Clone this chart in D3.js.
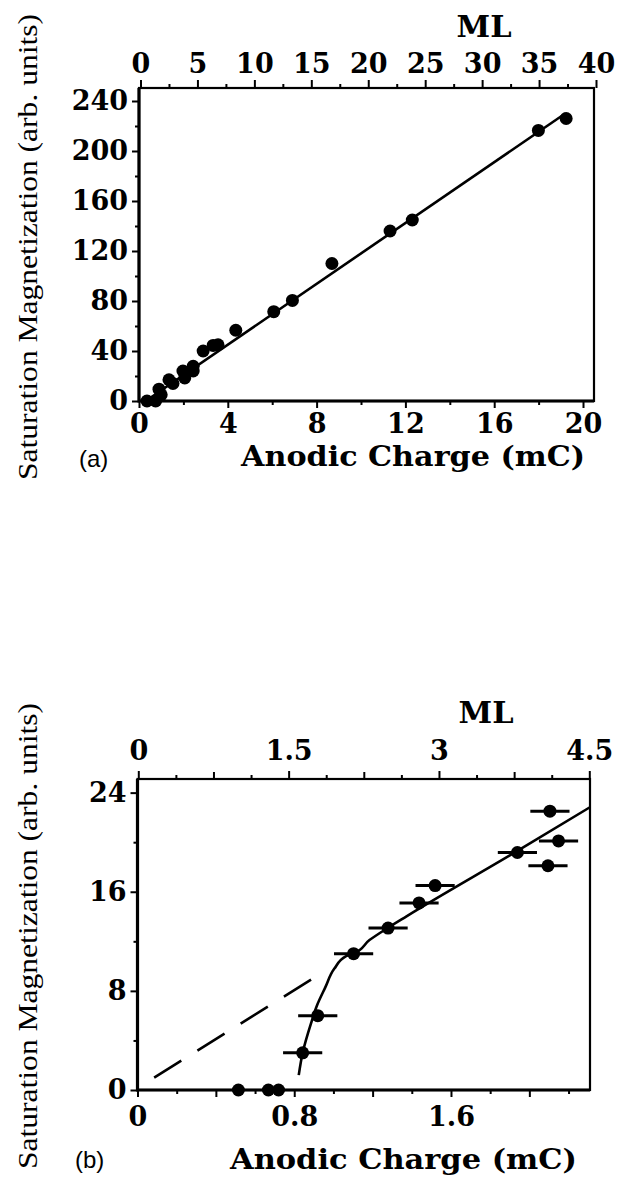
<!DOCTYPE html>
<html>
<head>
<meta charset="utf-8">
<script src="https://cdn.jsdelivr.net/npm/d3@7"></script>
<style>
  body { margin: 0; background: #fff; }
  .tick text { font-family: "DejaVu Serif"; font-weight: bold; font-size: 27px; fill: #000; }
  .tick line { stroke: #000; stroke-width: 2; }
</style>
</head>
<body>
<svg id="fig" width="620" height="1179"></svg>
<script>
// ---- panel (a) data
const chargeA = [0.36, 0.75, 0.9, 1.0, 1.35, 1.53, 1.98, 2.06, 2.44, 2.44, 2.89, 3.34, 3.56, 4.36, 6.07, 6.91, 8.69, 11.31, 12.31, 17.99, 19.24];
const magA    = [0, 0, 9.5, 5, 17, 14, 24, 18.5, 27.8, 24, 40, 44.5, 45, 56.6, 71.5, 80.5, 110, 136, 144.8, 216.5, 226];
const fitChargeA = [0.3, 19.2];
const fitMagA    = [0, 230];

const xTicksA      = [0, 4, 8, 12, 16, 20];
const xMinorA      = [2, 6, 10, 14, 18];
const mlTicksA     = [0, 5, 10, 15, 20, 25, 30, 35, 40];
const mlMinorA     = [2.5, 7.5, 12.5, 17.5, 22.5, 27.5, 32.5, 37.5];
const yTicksA      = [0, 40, 80, 120, 160, 200, 240];
const yMinorA      = [20, 60, 100, 140, 180, 220];

// ---- panel (b) data
const chargeB    = [0.515, 0.668, 0.72, 0.843, 0.92, 1.103, 1.279, 1.437, 1.519, 1.939, 2.105, 2.149, 2.095];
const magB       = [0, 0, 0, 3, 6, 11, 13.07, 15.1, 16.5, 19.17, 22.5, 20.1, 18.1];
const chargeErrB = [0, 0, 0, 0.1, 0.1, 0.1, 0.1, 0.1, 0.1, 0.1, 0.1, 0.1, 0.1];
const curveChargeB = [0.823, 0.843, 0.886, 0.918, 0.959, 1.005, 1.065, 1.102, 1.184, 1.276, 1.371, 1.939, 2.307];
const curveMagB    = [1.2, 3.0, 5.4, 6.9, 8.3, 9.8, 10.8, 11.0, 12.1, 13.07, 14.0, 19.3, 22.8];
const dashChargeB  = [0.085, 0.905];
const dashMagB     = [1.0, 9.1];

const xTicksB  = [0, 0.8, 1.6];
const xLongB   = [0.4, 1.2, 2.0];
const xMinorB  = [0.2, 0.6, 1.0, 1.4, 1.8, 2.2];
const mlTicksB = [0, 1.5, 3, 4.5];
const mlLongB  = [0.75, 2.25, 3.75];
const mlMinorB = [0.375, 1.125, 1.875, 2.625, 3.375, 4.125];
const yTicksB  = [0, 8, 16, 24];
const yMinorB  = [4, 12, 20];

const svg = d3.select("#fig");

function ticks(axis, vals, size, pad, labels) {
  return axis.tickValues(vals).tickSize(size).tickPadding(pad)
    .tickFormat(labels ? d => String(d) : "");
}

function addAxis(g, axis, tr) {
  const a = g.append("g").attr("transform", tr).call(axis);
  a.select(".domain").remove();
  return a;
}

function drawPanel(p) {
  const g = svg.append("g");
  const [x0, x1] = p.x.range(), [y0, y1] = p.y.range();

  // bottom axis
  addAxis(g, ticks(d3.axisBottom(p.x), p.xMinor, 4, 0, false), `translate(0,${y0})`);
  if (p.xLong) addAxis(g, ticks(d3.axisBottom(p.x), p.xLong, 7, 0, false), `translate(0,${y0})`);
  addAxis(g, ticks(d3.axisBottom(p.x), p.xTicks, 7, p.xPad, true), `translate(0,${y0})`);
  // top axis (ML)
  addAxis(g, ticks(d3.axisTop(p.ml), p.mlMinor, 4, 0, false), `translate(0,${y1})`);
  if (p.mlLong) addAxis(g, ticks(d3.axisTop(p.ml), p.mlLong, 7, 0, false), `translate(0,${y1})`);
  addAxis(g, ticks(d3.axisTop(p.ml), p.mlTicks, 8, p.mlPad, true), `translate(0,${y1})`);
  // left axis
  addAxis(g, ticks(d3.axisLeft(p.y), p.yMinor, 4, 0, false), `translate(${x0},0)`);
  addAxis(g, ticks(d3.axisLeft(p.y), p.yTicks, 7, 4, true), `translate(${x0},0)`);

  // frame
  g.append("rect").attr("x", x0).attr("y", y1).attr("width", p.right - x0).attr("height", y0 - y1)
    .attr("fill", "none").attr("stroke", "#000").attr("stroke-width", 2.2);
  g.append("path").attr("d", `M${x0},${y1}V${y0}H${p.right}`)
    .attr("fill", "none").attr("stroke", "#000").attr("stroke-width", 3.2);

  // titles
  g.append("text").text("ML").attr("x", p.mlTitle[0]).attr("y", p.mlTitle[1])
    .attr("text-anchor", "middle").style("font-family", "DejaVu Serif").style("font-weight", "bold")
    .style("font-size", "29px").attr("textLength", 55).attr("lengthAdjust", "spacingAndGlyphs");
  g.append("text").text("Anodic Charge (mC)").attr("x", p.xTitle[0]).attr("y", p.xTitle[1])
    .style("font-family", "DejaVu Serif").style("font-weight", "bold").style("font-size", "28px")
    .attr("textLength", p.xTitle[2]).attr("lengthAdjust", "spacingAndGlyphs");
  g.append("text").text("Saturation Magnetization (arb. units)")
    .attr("transform", `translate(${p.yTitle[0]},${p.yTitle[1]}) rotate(-90)`)
    .attr("text-anchor", "middle").style("font-family", "Liberation Serif").style("font-size", "28px")
    .attr("textLength", 466).attr("lengthAdjust", "spacingAndGlyphs");
  g.append("text").text(p.tag).attr("x", p.tagPos[0]).attr("y", p.tagPos[1])
    .style("font-family", "Liberation Sans").style("font-size", "24px");
  return g;
}

// ---------- panel (a)
const pa = {
  x: d3.scaleLinear().domain([0, 20.45]).range([139, 593]),
  ml: d3.scaleLinear().domain([0, 40]).range([140.5, 596]),
  y: d3.scaleLinear().domain([0, 250.4]).range([401, 88]),
  right: 594,
  xTicks: xTicksA, xMinor: xMinorA, xPad: 6,
  mlTicks: mlTicksA, mlMinor: mlMinorA, mlPad: 7,
  yTicks: yTicksA, yMinor: yMinorA,
  mlTitle: [484, 37], xTitle: [241, 466, 344], yTitle: [37, 247],
  tag: "(a)", tagPos: [79, 467]
};
const ga = drawPanel(pa);

ga.append("path")
  .datum(d3.zip(fitChargeA, fitMagA))
  .attr("d", d3.line().x(d => pa.x(d[0])).y(d => pa.y(d[1])))
  .attr("fill", "none").attr("stroke", "#000").attr("stroke-width", 2.6);

ga.selectAll(".dotA")
  .data(d3.zip(chargeA, magA))
  .enter().append("circle")
  .attr("cx", d => pa.x(d[0]))
  .attr("cy", d => pa.y(d[1]))
  .attr("r", 6.5)
  .attr("fill", "#000");

// ---------- panel (b)
const pb = {
  x: d3.scaleLinear().domain([0, 2.307]).range([137.5, 589.5]),
  ml: d3.scaleLinear().domain([0, 4.5]).range([138.3, 589.3]),
  y: d3.scaleLinear().domain([0, 25.1]).range([1090, 779]),
  right: 590,
  xTicks: xTicksB, xLong: xLongB, xMinor: xMinorB, xPad: 10,
  mlTicks: mlTicksB, mlLong: mlLongB, mlMinor: mlMinorB, mlPad: 11,
  yTicks: yTicksB, yMinor: yMinorB,
  mlTitle: [486, 723], xTitle: [230, 1169, 347], yTitle: [37, 936],
  tag: "(b)", tagPos: [75, 1168]
};
const gb = drawPanel(pb);

gb.append("path")
  .datum(d3.zip(dashChargeB, dashMagB))
  .attr("d", d3.line().x(d => pb.x(d[0])).y(d => pb.y(d[1])))
  .attr("fill", "none").attr("stroke", "#000").attr("stroke-width", 2.6)
  .attr("stroke-dasharray", "32,19");

gb.append("path")
  .datum(d3.zip(curveChargeB, curveMagB))
  .attr("d", d3.line().curve(d3.curveMonotoneY).x(d => pb.x(d[0])).y(d => pb.y(d[1])))
  .attr("fill", "none").attr("stroke", "#000").attr("stroke-width", 2.6);

const ptsB = d3.zip(chargeB, magB, chargeErrB);
gb.selectAll(".errB")
  .data(ptsB.filter(d => d[2] > 0))
  .enter().append("line")
  .attr("x1", d => pb.x(d[0] - d[2]))
  .attr("x2", d => pb.x(d[0] + d[2]))
  .attr("y1", d => pb.y(d[1]))
  .attr("y2", d => pb.y(d[1]))
  .attr("stroke", "#000").attr("stroke-width", 3);

gb.selectAll(".dotB")
  .data(ptsB)
  .enter().append("circle")
  .attr("cx", d => pb.x(d[0]))
  .attr("cy", d => pb.y(d[1]))
  .attr("r", 6.5)
  .attr("fill", "#000");
</script>
</body>
</html>
